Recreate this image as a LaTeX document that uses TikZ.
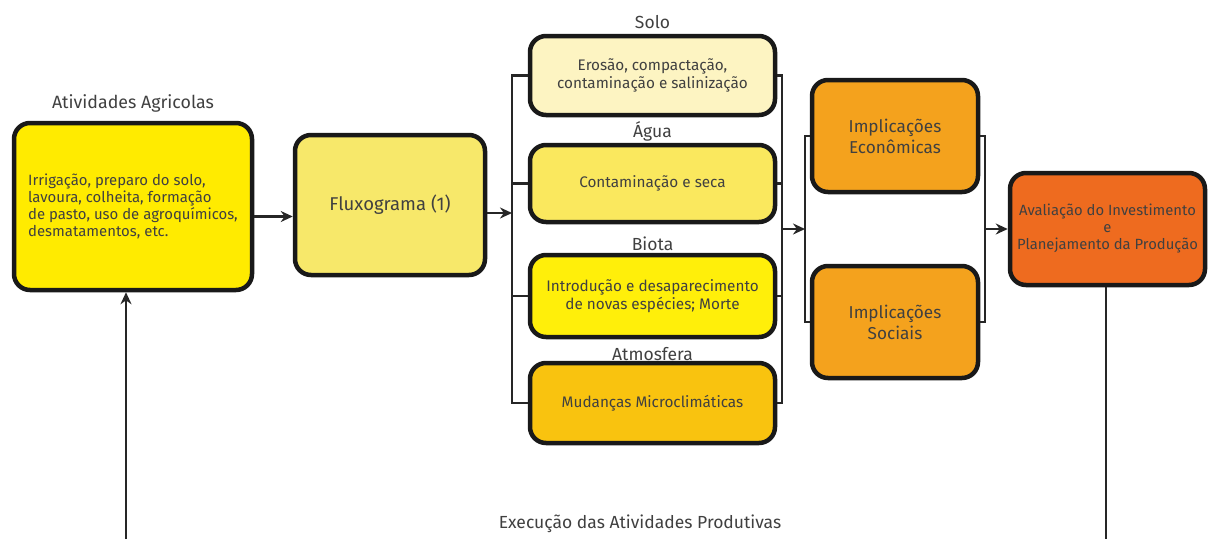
\documentclass[tikz,border=0pt]{standalone}
\usepackage{fontspec}
\setmainfont{Fira Sans}
\usepackage{xcolor}
\usetikzlibrary{arrows.meta, positioning}

\definecolor{agriyellow}{HTML}{FFEB00}
\definecolor{fluxyellow}{HTML}{F7E86A}
\definecolor{solocream}{HTML}{FDF4C2}
\definecolor{aguayellow}{HTML}{FAE85E}
\definecolor{biotayellow}{HTML}{FFEF0A}
\definecolor{atmogold}{HTML}{F9C30F}
\definecolor{implorange}{HTML}{F4A21D}
\definecolor{avalorange}{HTML}{EE6B1F}
\definecolor{txtgray}{HTML}{404040}

\tikzset{
    box/.style={draw=black!90, line width=4.5pt, rounded corners=16pt, text=txtgray,
                font=\fontsize{15.3}{18}\selectfont, align=center, inner sep=4pt},
    heading/.style={text=txtgray, font=\fontsize{17.5}{19}\selectfont},
    link/.style={line width=2.2pt, black!85},
    arr/.style={link, -{Stealth[length=12pt, width=11pt]}}
}

\begin{document}
\begin{tikzpicture}[x=1pt, y=-1pt]
    \useasboundingbox (0,0) rectangle (1213,539);

    % Activities and flow chart
    \node[box, fill=agriyellow, minimum width=238pt, minimum height=167pt, align=left,
          font=\fontsize{14.9}{17}\selectfont] (agri) at (133,206.5)
        {Irrigação, preparo do solo,\\lavoura, colheita, formação\\de pasto, uso de agroquímicos,\\desmatamentos, etc.};
    \node[heading, font=\fontsize{17.8}{19}\selectfont] (agrilbl) at (133,103) {Atividades Agricolas};
    \node[box, fill=fluxyellow, minimum width=190pt, minimum height=140pt, font=\fontsize{18.5}{20}\selectfont] (flux) at (390,205) {Fluxograma (1)};

    % Impacts
    \node[box, fill=solocream, minimum width=245pt, minimum height=79pt] (solo) at (652.5,75.5)
        {Erosão, compactação,\\contaminação e salinização};
    \node[box, fill=aguayellow, minimum width=245pt, minimum height=77pt] (agua) at (652.5,183.5)
        {Contaminação e seca};
    \node[box, fill=biotayellow, minimum width=245pt, minimum height=82pt] (biota) at (652.5,296)
        {Introdução e desaparecimento\\de novas espécies; Morte};
    \node[box, fill=atmogold, minimum width=245pt, minimum height=80pt] (atmo) at (652.5,403)
        {Mudanças Microclimáticas};
    \node[heading, above=2pt of solo] (sololbl) {Solo};
    \node[heading, above=-2pt of agua] (agualbl) {Água};
    \node[heading, above=-1pt of biota] (biotalbl) {Biota};
    \node[heading, above=-3pt of atmo] (atmolbl) {Atmosfera};

    % Implications
    \node[box, fill=implorange, minimum width=166pt, minimum height=112pt, font=\fontsize{17.2}{21}\selectfont] (econ) at (895,136)
        {Implicações\\Econômicas};
    \node[box, fill=implorange, minimum width=166pt, minimum height=112pt, font=\fontsize{17.2}{21}\selectfont] (soc) at (895,322)
        {Implicações\\Sociais};
    \node[box, fill=avalorange, minimum width=195pt, minimum height=112pt, inner sep=1pt,
          font=\fontsize{14.8}{17}\selectfont] (aval) at (1107.5,229)
        {Avaliação do Investimento\\e\\Planejamento da Produção};

    \node[heading] (exec) at (640,524) {Execução das Atividades Produtivas};

    % Bus lines
    \coordinate (lbus) at (512,0);
    \coordinate (rbus) at (782,0);
    \coordinate (ibusl) at (805,0);
    \coordinate (ibusr) at (985,0);
    \coordinate (botl) at (126,539);
    \coordinate (botr) at (1106,539);

    % Connectors
    \draw[arr] ([yshift=-10pt]agri.east) -- ([yshift=-10pt]agri.east -| flux.west);
    \draw[arr] ([yshift=-8pt]flux.east) -- ([yshift=-8pt]flux.east -| lbus);
    \draw[link] (solo.west) -- (solo.west -| lbus) -- (atmo.west -| lbus) -- (atmo.west);
    \draw[link] (agua.west) -- (agua.west -| lbus);
    \draw[link] (biota.west) -- (biota.west -| lbus);
    \draw[link] (solo.east) -- (solo.east -| rbus) -- (atmo.east -| rbus) -- (atmo.east);
    \draw[link] (agua.east) -- (agua.east -| rbus);
    \draw[link] (biota.east) -- (biota.east -| rbus);
    \draw[arr] (aval.west -| rbus) -- (aval.west -| ibusl);
    \draw[link] (econ.west) -- (econ.west -| ibusl) -- (soc.west -| ibusl) -- (soc.west);
    \draw[link] (econ.east) -- (econ.east -| ibusr) -- (soc.east -| ibusr) -- (soc.east);
    \draw[arr] (aval.west -| ibusr) -- (aval.west);

    % Feedback
    \draw[link] (botr |- aval.south) -- (botr);
    \draw[arr] (botl) -- (botl |- agri.south);
\end{tikzpicture}
\end{document}
